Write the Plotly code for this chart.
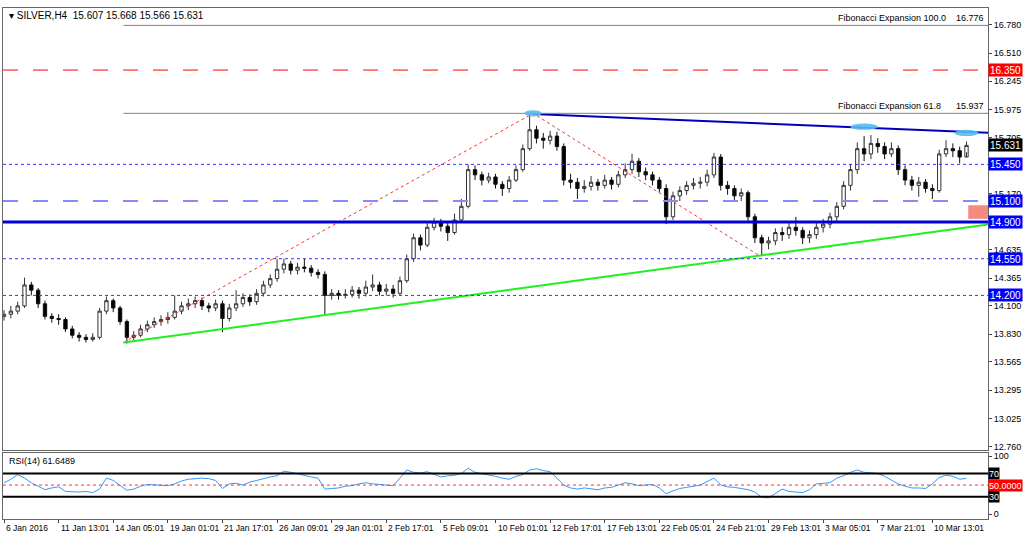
import plotly.graph_objects as go

# ---------------- data ----------------
closes = [14.02,14.05,14.10,14.30,14.25,14.12,14.00,13.98,13.97,13.88,13.82,13.80,13.78,13.80,14.05,14.15,14.08,13.95,13.80,13.82,
          13.88,13.92,13.95,13.97,13.99,14.05,14.10,14.12,14.15,14.10,14.08,14.12,13.98,14.08,14.12,14.18,14.14,14.22,14.30,14.36,
          14.45,14.50,14.44,14.47,14.46,14.42,14.40,14.20,14.22,14.20,14.21,14.25,14.22,14.28,14.30,14.24,14.26,14.22,14.34,14.55,
          14.75,14.68,14.85,14.90,14.86,14.80,14.92,15.05,15.40,15.35,15.30,15.33,15.26,15.22,15.30,15.40,15.60,15.78,15.70,15.68,
          15.72,15.62,15.30,15.28,15.22,15.24,15.28,15.25,15.30,15.26,15.35,15.40,15.48,15.38,15.35,15.30,15.22,14.95,15.15,15.20,
          15.25,15.27,15.28,15.35,15.52,15.25,15.22,15.15,15.18,14.95,14.75,14.70,14.72,14.80,14.78,14.85,14.82,14.75,14.78,14.85,
          14.88,14.95,15.05,15.25,15.40,15.60,15.55,15.65,15.62,15.55,15.60,15.40,15.30,15.25,15.28,15.22,15.20,15.55,15.60,15.58,
          15.52,15.631]
highs = [14.06,14.10,14.14,14.37,14.33,14.27,14.15,14.03,14.02,13.99,13.91,13.85,13.83,13.84,14.08,14.19,14.17,14.10,13.97,13.86,
         13.92,13.96,13.99,14.01,14.04,14.20,14.14,14.17,14.19,14.18,14.13,14.16,14.15,14.12,14.25,14.22,14.21,14.26,14.34,14.40,
         14.55,14.55,14.53,14.51,14.55,14.49,14.45,14.43,14.26,14.25,14.26,14.29,14.28,14.34,14.40,14.33,14.31,14.30,14.38,14.59,
         14.79,14.78,14.89,14.94,14.93,14.90,14.98,15.12,15.45,15.44,15.38,15.37,15.36,15.29,15.34,15.44,15.64,15.937,15.82,15.75,
         15.77,15.76,15.65,15.36,15.32,15.30,15.34,15.31,15.35,15.33,15.39,15.46,15.55,15.51,15.42,15.38,15.33,15.26,15.19,15.24,
         15.29,15.32,15.33,15.40,15.56,15.55,15.29,15.25,15.22,15.20,14.98,14.78,14.76,14.84,14.85,14.90,14.95,14.85,14.82,14.89,
         14.93,14.99,15.09,15.29,15.45,15.66,15.72,15.73,15.70,15.66,15.66,15.63,15.44,15.34,15.33,15.31,15.26,15.59,15.68,15.65,
         15.62,15.668]
lows = [13.96,13.98,14.02,14.08,14.20,14.08,13.97,13.94,13.92,13.85,13.79,13.76,13.75,13.76,13.78,14.02,14.04,13.92,13.74,13.77,
        13.80,13.85,13.89,13.91,13.93,13.97,14.02,14.06,14.08,14.06,14.04,14.05,13.85,13.95,14.05,14.09,14.10,14.11,14.19,14.27,
        14.33,14.41,14.40,14.40,14.42,14.38,14.36,14.02,14.16,14.16,14.17,14.18,14.17,14.19,14.24,14.20,14.20,14.18,14.20,14.32,
        14.52,14.63,14.66,14.82,14.81,14.72,14.78,14.90,15.03,15.30,15.25,15.27,15.22,15.15,15.18,15.28,15.38,15.58,15.65,15.60,
        15.64,15.58,15.25,15.22,15.12,15.18,15.20,15.20,15.22,15.21,15.23,15.32,15.36,15.33,15.30,15.25,15.18,14.88,14.92,15.10,
        15.16,15.21,15.22,15.24,15.32,15.20,15.16,15.10,15.10,14.90,14.70,14.58,14.64,14.68,14.72,14.74,14.77,14.69,14.70,14.74,
        14.80,14.84,14.91,15.02,15.20,15.36,15.48,15.50,15.56,15.50,15.52,15.35,15.25,15.20,15.14,15.18,15.12,15.18,15.52,15.52,
        15.46,15.566]
first_open = 14.00
rsi = [54,60,68,62,54,48,42,45,47,39,38,38,39,37,43,62,58,50,41,43,
       48,51,50,49,49,52,57,60,61,62,61,58,44,52,53,50,55,58,62,64,
       66,74,72,69,66,64,62,43,44,45,48,49,52,54,52,51,50,49,62,76,
       72,71,73,68,64,66,67,70,79,72,70,67,65,62,60,65,68,76,78,75,
       73,62,50,45,43,45,43,42,45,46,50,54,52,49,50,51,45,35,40,44,
       46,48,50,56,62,50,47,46,44,42,38,29,28,35,43,39,38,37,42,52,
       53,54,62,66,72,76,72,71,70,65,58,52,48,45,45,44,52,63,67,65,
       60,61.6489]
date_labels = ["6 Jan 2016","11 Jan 13:01","14 Jan 05:01","19 Jan 01:01","21 Jan 17:01","26 Jan 09:01",
               "29 Jan 01:01","2 Feb 17:01","5 Feb 09:01","10 Feb 01:01","12 Feb 17:01","17 Feb 13:01",
               "22 Feb 05:01","24 Feb 21:01","29 Feb 13:01","3 Mar 05:01","7 Mar 21:01","10 Mar 13:01"]
date_bars = [0,16,32,48,64,80,96,112,128,144,160,176,192,208,224,240,256,272]
price_ticks = [16.780,16.510,16.245,15.975,15.705,15.170,14.635,14.365,14.100,13.830,13.565,13.295,13.025,12.760]
levels = [16.350,15.450,15.100,14.900,14.550,14.200]
fib_levels = [16.776,15.937]
current = 15.631
# trend line anchor points (bar index, price)
green_pts = ([35, 289], [13.75, 14.88])
blue_pts = ([155, 289], [15.93, 15.75])
zigzag_pts = ([35, 155, 221], [13.75, 15.937, 14.585])

bars = [2 * i for i in range(len(closes))]
opens = [first_open] + closes[:-1]

FONT = "Liberation Sans"
fig = go.Figure()
fig.add_trace(go.Candlestick(
    x=bars, open=opens, high=highs, low=lows, close=closes,
    increasing=dict(line=dict(color="#333333", width=1), fillcolor="white"),
    decreasing=dict(line=dict(color="#111111", width=1), fillcolor="black"),
    whiskerwidth=0, xaxis="x", yaxis="y", showlegend=False, hoverinfo="skip"))
fig.add_trace(go.Scatter(x=zigzag_pts[0], y=zigzag_pts[1], mode="lines",
    line=dict(color="#ff3030", width=1, dash="dot"), xaxis="x", yaxis="y", showlegend=False))
fig.add_trace(go.Scatter(x=green_pts[0], y=green_pts[1], mode="lines",
    line=dict(color="#22ee22", width=2), xaxis="x", yaxis="y", showlegend=False))
fig.add_trace(go.Scatter(x=blue_pts[0], y=blue_pts[1], mode="lines",
    line=dict(color="#0000bb", width=2), xaxis="x", yaxis="y", showlegend=False))
fig.add_trace(go.Scatter(x=bars, y=rsi, mode="lines", line=dict(color="#3399ff", width=1),
    xaxis="x2", yaxis="y2", showlegend=False))

shapes = []
styles = {16.350: ("#ff0000", 1, "longdash"), 15.450: ("#3333ff", 1, "dot"),
          15.100: ("#8888ff", 2, "longdash"), 14.900: ("#0000dd", 3, "solid"),
          14.550: ("#3333ff", 1, "dot"), 14.200: ("#3333ff", 1, "dot")}
for lv in levels:
    c, w, d = styles[lv]
    shapes.append(dict(type="line", xref="paper", x0=0, x1=1, yref="y", y0=lv, y1=lv,
                       line=dict(color=c, width=w, dash=d), layer="above"))
for fl in fib_levels:
    shapes.append(dict(type="line", xref="x", x0=35, x1=289, yref="y", y0=fl, y1=fl,
                       line=dict(color="#808080", width=1)))
for cx, cy, hw in [(155, 15.937, 2.5), (252, 15.81, 4), (282, 15.75, 3.5)]:
    shapes.append(dict(type="circle", xref="x", yref="y", x0=cx-hw, x1=cx+hw, y0=cy-0.03, y1=cy+0.03,
                       fillcolor="#55bbee", line=dict(width=0), opacity=0.9))
shapes.append(dict(type="rect", xref="x", yref="y", x0=282.5, x1=289, y0=14.93, y1=15.06,
                   fillcolor="#f58b80", line=dict(width=0)))
for lv, c, w, d in [(70, "black", 2, "solid"), (30, "black", 2, "solid"), (50, "#ff3333", 1, "dot")]:
    shapes.append(dict(type="line", xref="paper", x0=0, x1=1, yref="y2", y0=lv, y1=lv,
                       line=dict(color=c, width=w, dash=d)))

ann = []
ann.append(dict(xref="paper", yref="paper", x=0.004, y=1.0, xanchor="left", yanchor="top",
                text="▾ SILVER,H4  15.607 15.668 15.566 15.631", showarrow=False,
                font=dict(family=FONT, size=10, color="black")))
ann.append(dict(xref="paper", yref="paper", x=0.004, y=0.128, xanchor="left", yanchor="top",
                text="RSI(14) 61.6489", showarrow=False, font=dict(family=FONT, size=9, color="black")))
ann.append(dict(xref="paper", yref="y", x=0.998, y=16.776, xanchor="right", yanchor="bottom",
                text="Fibonacci Expansion 100.0    16.776", showarrow=False,
                font=dict(family=FONT, size=9, color="black")))
ann.append(dict(xref="paper", yref="y", x=0.998, y=15.937, xanchor="right", yanchor="bottom",
                text="Fibonacci Expansion 61.8      15.937", showarrow=False,
                font=dict(family=FONT, size=9, color="black")))
boxes = [(16.350, "#ff0000"), (15.450, "#0000ff"), (15.100, "#0000ff"), (14.900, "#0000ff"),
         (14.550, "#0000ff"), (14.200, "#0000ff"), (current, "#000000")]
for v, c in boxes:
    ann.append(dict(xref="paper", yref="y", x=1.0, y=v, xanchor="left", yanchor="middle",
                    text=f"{v:.3f}", showarrow=False, bgcolor=c, width=33, height=12, borderpad=0,
                    font=dict(family=FONT, size=10, color="white")))
for v, c, t in [(70, "black", "70"), (30, "black", "30"), (50, "#ff0000", "50.0000")]:
    ann.append(dict(xref="paper", yref="y2", x=1.0, y=v, xanchor="left", yanchor="middle",
                    text=t, showarrow=False, bgcolor=c, borderpad=0, height=11,
                    font=dict(family=FONT, size=9, color="white")))
for b, t in zip(date_bars, date_labels):
    ann.append(dict(xref="x2", yref="paper", x=b, y=-0.004, xanchor="left", yanchor="top",
                    text=t, showarrow=False, font=dict(family=FONT, size=8.5, color="black")))

fig.update_layout(
    width=1024, height=536, paper_bgcolor="white", plot_bgcolor="white",
    margin=dict(l=3, r=36, t=8, b=17), shapes=shapes, annotations=ann,
    font=dict(family=FONT, size=9, color="black"),
    xaxis=dict(domain=[0, 1], anchor="y", range=[-0.3, 288.3], showticklabels=False, showgrid=False,
               zeroline=False, showline=True, mirror=True, linecolor="#666", rangeslider=dict(visible=False), ticks=""),
    yaxis=dict(domain=[0.135, 1], range=[12.725, 16.942], side="right", tickvals=price_ticks,
               ticktext=[f"{v:.3f}" for v in price_ticks], showgrid=False, zeroline=False,
               showline=True, mirror=True, linecolor="#666", ticks="outside", ticklen=3,
               tickfont=dict(family=FONT, size=9)),
    xaxis2=dict(domain=[0, 1], anchor="y2", range=[-0.3, 288.3], showticklabels=False, showgrid=False,
                zeroline=False, showline=True, mirror=True, linecolor="#666",
                tickvals=date_bars, ticks="outside", ticklen=3),
    yaxis2=dict(domain=[0, 0.129], range=[-8.6, 105.2], side="right", tickvals=[0, 100],
                showgrid=False, zeroline=False, showline=True, mirror=True, linecolor="#666",
                ticks="outside", ticklen=3, tickfont=dict(family=FONT, size=9)),
)
fig.write_html("out.html", config={"displayModeBar": False},
               post_script="document.body.style.margin='0';document.body.style.overflow='hidden';")
